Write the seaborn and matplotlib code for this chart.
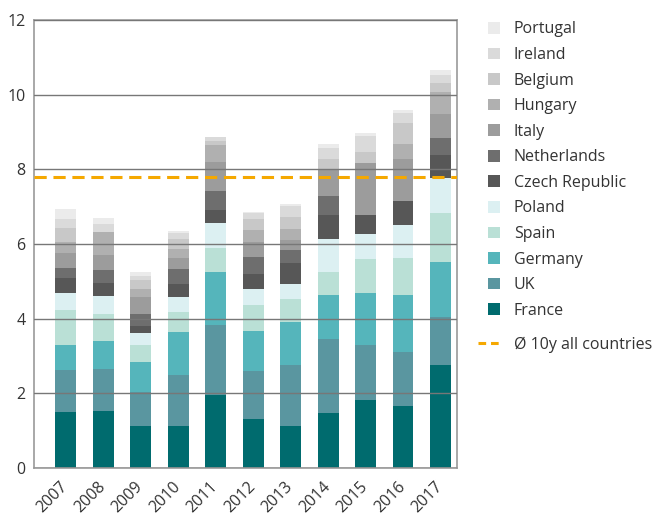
import numpy as np
import pandas as pd
import matplotlib
matplotlib.use("Agg")
import matplotlib.pyplot as plt
from matplotlib.patches import Patch
from matplotlib.lines import Line2D
import seaborn as sns

years = ["2007", "2008", "2009", "2010", "2011", "2012", "2013", "2014", "2015", "2016", "2017"]

# stack order, bottom to top
france      = [1.50, 1.53, 1.13, 1.13, 1.96, 1.31, 1.13, 1.47, 1.82, 1.66, 2.76]
uk          = [1.13, 1.12, 0.91, 1.37, 1.88, 1.29, 1.64, 1.98, 1.47, 1.45, 1.29]
germany     = [0.67, 0.75, 0.80, 1.13, 1.42, 1.07, 1.15, 1.18, 1.39, 1.52, 1.47]
spain       = [0.94, 0.72, 0.46, 0.56, 0.62, 0.70, 0.62, 0.62, 0.91, 0.99, 1.31]
poland      = [0.46, 0.48, 0.32, 0.40, 0.67, 0.43, 0.40, 0.88, 0.67, 0.88, 0.94]
czech       = [0.40, 0.35, 0.19, 0.35, 0.35, 0.40, 0.54, 0.64, 0.51, 0.64, 0.62]
netherlands = [0.27, 0.35, 0.32, 0.38, 0.51, 0.46, 0.35, 0.51, 0.00, 0.00, 0.46]
italy       = [0.40, 0.40, 0.46, 0.30, 0.78, 0.40, 0.27, 0.70, 1.39, 1.15, 0.62]
hungary     = [0.29, 0.62, 0.21, 0.24, 0.46, 0.32, 0.30, 0.00, 0.00, 0.38, 0.59]
belgium     = [0.38, 0.00, 0.24, 0.27, 0.11, 0.29, 0.32, 0.29, 0.30, 0.56, 0.24]
ireland     = [0.24, 0.21, 0.11, 0.16, 0.11, 0.16, 0.30, 0.30, 0.43, 0.27, 0.24]
portugal    = [0.27, 0.16, 0.11, 0.05, 0.00, 0.03, 0.05, 0.11, 0.08, 0.08, 0.11]

countries = ["France", "UK", "Germany", "Spain", "Poland", "Czech Republic",
             "Netherlands", "Italy", "Hungary", "Belgium", "Ireland", "Portugal"]
series = [france, uk, germany, spain, poland, czech,
          netherlands, italy, hungary, belgium, ireland, portugal]
colors = ["#006b6e", "#5a96a0", "#55b5bb", "#bae0d6", "#dcf0f2", "#575757",
          "#6e6e6e", "#9c9c9c", "#b0b0b0", "#c8c8c8", "#dadada", "#ebebeb"]

avg_10y = 7.8
avg_label = "Ø 10y all countries"

sns.set_theme(style="white")
plt.rcParams["font.family"] = ["Open Sans", "DejaVu Sans"]

fig = plt.figure(figsize=(6.54, 5.2), dpi=100)
ax = fig.add_axes([34 / 654, 1 - 468 / 520, (457 - 34) / 654, (468 - 20) / 520])

df = pd.DataFrame({"year": years})
cum = np.zeros(len(years))
cums = []
for vals in series:
    cum = cum + np.array(vals)
    cums.append(cum.copy())

# stacked bars: draw cumulative totals from the top layer down
for name, c, col in reversed(list(zip(countries, cums, colors))):
    d = df.assign(total=c)
    sns.barplot(data=d, x="year", y="total", color=col, saturation=1,
                width=0.56, errorbar=None, ax=ax, linewidth=0)

ax.axhline(avg_10y, color="#f5a800", lw=2.2, ls=(0, (4.0, 2.2)), zorder=4)

ax.set_xlim(-0.84, 10.44)
ax.set_ylim(0, 12)
ax.set_yticks([0, 2, 4, 6, 8, 10, 12])
ax.set_axisbelow(False)
ax.yaxis.grid(True, color="#777777", lw=1.0, zorder=3)
ax.set_xlabel("")
ax.set_ylabel("")
for s in ax.spines.values():
    s.set_visible(True)
    s.set_color("#9a9a9a")
    s.set_linewidth(1.2)

ax.tick_params(axis="both", length=0, labelsize=11.5, labelcolor="#333333")
ax.tick_params(axis="y", pad=6)
ax.tick_params(axis="x", pad=12)
for lab in ax.get_xticklabels():
    lab.set_rotation(45)
    lab.set_ha("right")
    lab.set_va("center")
    lab.set_rotation_mode("anchor")

handles = [Patch(facecolor=col, edgecolor="none") for col in reversed(colors)]
fig.legend(handles, list(reversed(countries)), loc="upper left",
           bbox_to_anchor=(474 / 654, 1 - 7 / 520), frameon=False,
           fontsize=11.5, handlelength=0.75, handleheight=0.75,
           labelspacing=0.6, handletextpad=0.85, labelcolor="#333333")
line_h = Line2D([0], [0], color="#f5a800", lw=2.2, ls=(0, (2.5, 1.6)))
fig.legend([line_h], [avg_label], loc="upper left",
           bbox_to_anchor=(464 / 654, 1 - 322 / 520), frameon=False,
           fontsize=11.5, handlelength=1.45, handletextpad=0.75,
           labelcolor="#333333")

fig.savefig("out.png", dpi=100)
